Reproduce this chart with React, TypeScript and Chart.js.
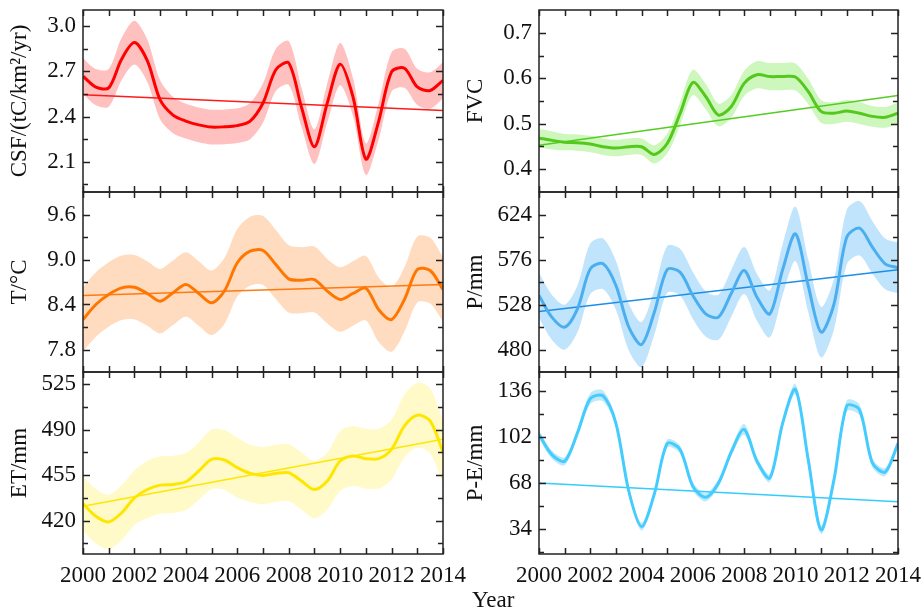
import React, { useEffect, useRef } from "react";
import { Chart, registerables } from "chart.js";

Chart.register(...registerables);

const halfYears = [
  2000, 2000.5, 2001, 2001.5, 2002, 2002.5, 2003, 2003.5, 2004, 2004.5, 2005, 2005.5, 2006, 2006.5, 2007,
  2007.5, 2008, 2008.5, 2009, 2009.5, 2010, 2010.5, 2011, 2011.5, 2012, 2012.5, 2013, 2013.5, 2014,
];
const yearTicks = [2000, 2001, 2002, 2003, 2004, 2005, 2006, 2007, 2008, 2009, 2010, 2011, 2012, 2013, 2014];
const yearLabels = [2000, 2002, 2004, 2006, 2008, 2010, 2012, 2014];
const trendYears = [2000, 2014];

const csfValues = [2.667, 2.595, 2.59, 2.78, 2.89, 2.77, 2.51, 2.41, 2.37, 2.345, 2.33, 2.332, 2.34, 2.37, 2.49, 2.71, 2.755, 2.46, 2.2, 2.49, 2.747, 2.53, 2.118, 2.37, 2.696, 2.72, 2.596, 2.573, 2.64];
const csfErr = [0.12, 0.12, 0.125, 0.14, 0.145, 0.14, 0.13, 0.12, 0.115, 0.115, 0.115, 0.115, 0.115, 0.12, 0.13, 0.14, 0.145, 0.13, 0.115, 0.13, 0.14, 0.125, 0.105, 0.12, 0.13, 0.13, 0.12, 0.12, 0.12];
const csfTrend = [2.544, 2.44];
const csfTicks = [2.1, 2.4, 2.7, 3.0];

const fvcValues = [0.468, 0.463, 0.459, 0.458, 0.455, 0.449, 0.446, 0.449, 0.449, 0.432, 0.456, 0.522, 0.591, 0.56, 0.519, 0.538, 0.589, 0.608, 0.604, 0.604, 0.603, 0.571, 0.527, 0.523, 0.528, 0.523, 0.516, 0.514, 0.523];
const fvcErr = [0.02, 0.02, 0.018, 0.018, 0.018, 0.018, 0.018, 0.018, 0.018, 0.02, 0.022, 0.026, 0.028, 0.028, 0.025, 0.025, 0.028, 0.03, 0.03, 0.03, 0.03, 0.028, 0.025, 0.024, 0.024, 0.024, 0.023, 0.023, 0.023];
const fvcTrend = [0.452, 0.562];
const fvcTicks = [0.4, 0.5, 0.6, 0.7];

const tValues = [8.2, 8.4, 8.533, 8.622, 8.631, 8.547, 8.444, 8.556, 8.667, 8.547, 8.422, 8.58, 8.956, 9.111, 9.12, 8.933, 8.742, 8.724, 8.733, 8.578, 8.467, 8.547, 8.618, 8.33, 8.2, 8.467, 8.867, 8.853, 8.6];
const tErr = [0.43, 0.43, 0.43, 0.43, 0.43, 0.43, 0.43, 0.43, 0.43, 0.43, 0.43, 0.44, 0.45, 0.46, 0.46, 0.46, 0.45, 0.44, 0.44, 0.43, 0.43, 0.43, 0.43, 0.43, 0.43, 0.43, 0.44, 0.44, 0.43];
const tTrend = [8.52, 8.667];
const tTicks = [7.8, 8.4, 9.0, 9.6];

const pValues = [537.6, 514.5, 503.8, 523.4, 566, 571.4, 548.3, 504, 485.3, 520, 565.3, 562.5, 537.6, 518, 514.5, 540, 564.3, 535.8, 518, 565, 603.4, 548, 498.5, 528, 599.8, 609.4, 589.2, 571.4, 567.1];
const pErr = [24, 24, 24, 25, 27, 27, 26, 25, 24, 24, 25, 25, 25, 24, 24, 25, 25, 25, 25, 27, 29, 28, 27, 27, 29, 29, 28, 27, 27];
const pTrend = [520.5, 565];
const pTicks = [480, 528, 576, 624];

const etValues = [433.1, 423.3, 419, 425.9, 437.5, 443.9, 447.3, 447.8, 449.9, 458.1, 467.1, 466.6, 460.7, 456.3, 454.7, 456.3, 456.8, 450.4, 443.9, 450.4, 465.8, 469.7, 467.6, 467.6, 474.8, 492.8, 501.1, 496.7, 472.8];
const etErr = [21, 21, 21, 21, 21, 22, 22, 22, 22, 22, 23, 23, 23, 22, 22, 22, 22, 22, 22, 22, 23, 23, 23, 23, 23, 24, 25, 25, 24];
const etTrend = [431.1, 482.5];
const etTicks = [420, 455, 490, 525];

const peValues = [103.8, 88.9, 84, 105, 130.3, 132.3, 112, 62, 35.7, 60, 97.1, 92.7, 65.4, 57.3, 67.9, 90.9, 107.5, 84, 71.6, 112, 137.2, 85, 33.2, 70, 124.9, 122, 82.8, 76, 97.1];
const peErr = [3, 3, 3, 3, 4, 4, 3, 3, 3, 3, 3, 3, 3, 3, 3, 3, 4, 3, 3, 3, 4, 3, 3, 3, 4, 4, 3, 3, 3];
const peTrend = [67.9, 54];
const peTicks = [34, 68, 102, 136];

const FONT = '"Liberation Serif", "Times New Roman", serif';
const TEXT = "#111111";

const COLS = [
  { left: 0, width: 475, axis: 83, padRight: 32, titlePad: 6, labelPad: 7 },
  { left: 460, width: 462, axis: 79, padRight: 24, titlePad: 2, labelPad: 7 },
];
const ROWS = [
  { top: 0, height: 202 },
  { top: 182, height: 200 },
  { top: 362, height: 250 },
];

type Spec = {
  title: string;
  values: number[];
  err: number[];
  trend: number[];
  ticks: number[];
  min: number;
  max: number;
  decimals: number;
  line: string;
  band: string;
  trendColor: string;
  col: number;
  row: number;
};

const panels: Spec[] = [
  { title: "CSF/(tC/km²/yr)", values: csfValues, err: csfErr, trend: csfTrend, ticks: csfTicks, min: 1.9, max: 3.106, decimals: 1, line: "#ff0000", band: "#ffc0c0", trendColor: "#ff1a1a", col: 0, row: 0 },
  { title: "T/°C", values: tValues, err: tErr, trend: tTrend, ticks: tTicks, min: 7.5, max: 9.9, decimals: 1, line: "#ff7700", band: "#ffdcc0", trendColor: "#ff7a10", col: 0, row: 1 },
  { title: "ET/mm", values: etValues, err: etErr, trend: etTrend, ticks: etTicks, min: 394.3, max: 534.3, decimals: 0, line: "#ffe600", band: "#fffac8", trendColor: "#ffe600", col: 0, row: 2 },
  { title: "FVC", values: fvcValues, err: fvcErr, trend: fvcTrend, ticks: fvcTicks, min: 0.349, max: 0.751, decimals: 1, line: "#55c81e", band: "#cdf7bd", trendColor: "#55cc22", col: 1, row: 0 },
  { title: "P/mm", values: pValues, err: pErr, trend: pTrend, ticks: pTicks, min: 456, max: 648, decimals: 0, line: "#4aaef0", band: "#c0e4fb", trendColor: "#1a8fe8", col: 1, row: 1 },
  { title: "P-E/mm", values: peValues, err: peErr, trend: peTrend, ticks: peTicks, min: 15.4, max: 150, decimals: 0, line: "#44ccff", band: "#bfe9fb", trendColor: "#33ccff", col: 1, row: 2 },
];

const frameTicksPlugin = {
  id: "frameTicks",
  afterDatasetsDraw(chart: any) {
    const { ctx, chartArea, scales } = chart;
    const { left, right, top, bottom } = chartArea;
    const x = scales.x;
    const y = scales.y;
    const major: number[] = chart.options.plugins.frameTicks.major;
    ctx.save();
    ctx.strokeStyle = "#222222";
    ctx.lineWidth = 1.5;
    ctx.strokeRect(left, top, right - left, bottom - top);
    ctx.beginPath();
    for (const yr of yearTicks) {
      const px = Math.round(x.getPixelForValue(yr)) + 0.5;
      ctx.moveTo(px, top);
      ctx.lineTo(px, top + 6);
      ctx.moveTo(px, bottom);
      ctx.lineTo(px, bottom - 6);
    }
    const step = major[1] - major[0];
    const minors: number[] = [major[0] - step / 2];
    for (let i = 0; i < major.length; i++) minors.push(major[i] + step / 2);
    for (const v of major) {
      const py = Math.round(y.getPixelForValue(v)) + 0.5;
      ctx.moveTo(left, py);
      ctx.lineTo(left + 7, py);
      ctx.moveTo(right, py);
      ctx.lineTo(right - 7, py);
    }
    for (const v of minors) {
      const py = Math.round(y.getPixelForValue(v)) + 0.5;
      if (py < top + 1 || py > bottom - 1) continue;
      ctx.moveTo(left, py);
      ctx.lineTo(left + 5, py);
      ctx.moveTo(right, py);
      ctx.lineTo(right - 5, py);
    }
    ctx.stroke();
    ctx.restore();
  },
};

function Panel({ spec }: { spec: Spec }) {
  const ref = useRef<HTMLCanvasElement>(null);
  const col = COLS[spec.col];
  const row = ROWS[spec.row];
  useEffect(() => {
    if (!ref.current) return;
    const bottomRow = spec.row === 2;
    const pts = (arr: number[]) => halfYears.map((xv, i) => ({ x: xv, y: arr[i] }));
    const upper = spec.values.map((v, i) => v + spec.err[i]);
    const lower = spec.values.map((v, i) => v - spec.err[i]);
    const chart = new Chart(ref.current, {
      type: "line",
      data: {
        datasets: [
          { data: pts(upper), borderWidth: 0, borderColor: "transparent", pointRadius: 0, fill: false, tension: 0.3, order: 4 },
          { data: pts(lower), borderWidth: 0, borderColor: "transparent", pointRadius: 0, fill: 0, backgroundColor: spec.band, tension: 0.3, order: 3 },
          { data: pts(spec.values), borderColor: spec.line, borderWidth: 3, pointRadius: 0, fill: false, tension: 0.3, order: 0 },
          { data: trendYears.map((xv, i) => ({ x: xv, y: spec.trend[i] })), borderColor: spec.trendColor, borderWidth: 1.5, pointRadius: 0, fill: false, order: 1 },
        ],
      } as any,
      options: {
        responsive: false,
        animation: false,
        layout: { padding: { left: 0, right: col.padRight, top: 10, bottom: bottomRow ? 0 : 10 } },
        plugins: {
          legend: { display: false },
          tooltip: { enabled: false },
          frameTicks: { major: spec.ticks },
        } as any,
        scales: {
          x: {
            type: "linear",
            min: 2000,
            max: 2014,
            display: bottomRow,
            grid: { display: false, drawTicks: false },
            border: { display: false },
            afterBuildTicks: (s: any) => {
              s.ticks = yearLabels.map((v) => ({ value: v }));
            },
            afterFit: (s: any) => {
              s.height = bottomRow ? 58 : 0;
              s.paddingLeft = 0;
              s.paddingRight = 0;
            },
            ticks: {
              autoSkip: false,
              maxRotation: 0,
              padding: 8,
              color: TEXT,
              font: { family: FONT, size: 23 },
              callback: (v: any) => String(v),
            },
          },
          y: {
            type: "linear",
            min: spec.min,
            max: spec.max,
            grid: { display: false, drawTicks: false },
            border: { display: false },
            afterBuildTicks: (s: any) => {
              s.ticks = spec.ticks.map((v) => ({ value: v }));
            },
            afterFit: (s: any) => {
              s.width = col.axis;
              s.paddingTop = 0;
              s.paddingBottom = 0;
            },
            ticks: {
              padding: col.labelPad,
              color: TEXT,
              font: { family: FONT, size: 23 },
              callback: (v: any) => Number(v).toFixed(spec.decimals),
            },
            title: {
              display: true,
              text: spec.title,
              color: TEXT,
              font: { family: FONT, size: 23 },
              padding: { top: col.titlePad, bottom: 0 },
            },
          },
        } as any,
      },
      plugins: [frameTicksPlugin],
    });
    return () => chart.destroy();
  }, []);
  return (
    <canvas
      ref={ref}
      width={col.width}
      height={row.height}
      style={{ position: "absolute", left: col.left, top: row.top, width: col.width, height: row.height }}
    />
  );
}

export default function App() {
  return (
    <div style={{ position: "fixed", left: 0, top: 0, width: 922, height: 612, background: "#ffffff", overflow: "hidden" }}>
      {panels.map((p, i) => (
        <Panel key={i} spec={p} />
      ))}
      <div
        style={{
          position: "absolute",
          left: 472,
          top: 588,
          fontFamily: FONT,
          fontSize: 23,
          lineHeight: "23px",
          color: TEXT,
          whiteSpace: "nowrap",
        }}
      >
        Year
      </div>
    </div>
  );
}
